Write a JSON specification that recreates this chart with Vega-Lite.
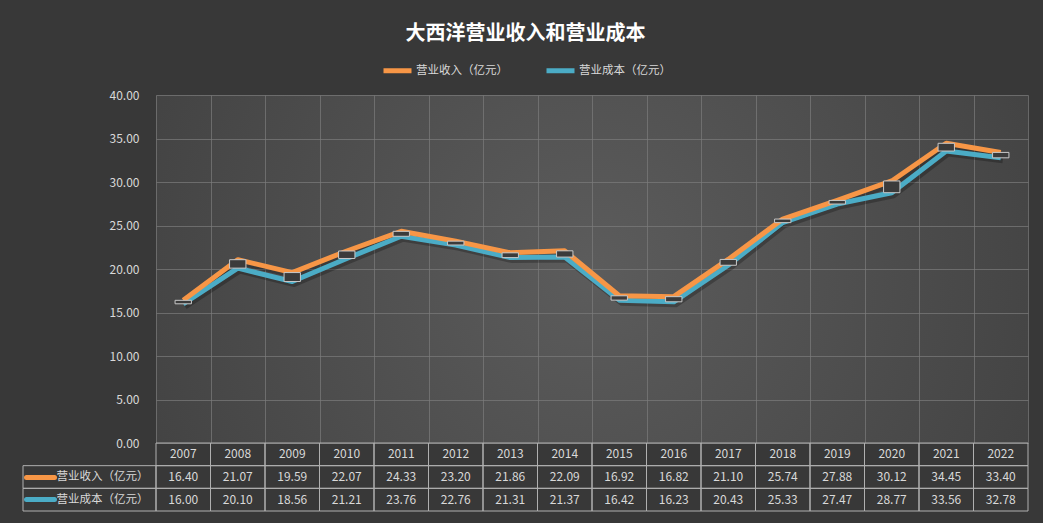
{
  "$schema": "https://vega.github.io/schema/vega-lite/v6.json",
  "background": "#383838",
  "padding": {"left": 22, "right": 16, "top": 24, "bottom": 12},
  "title": {
    "text": "大西洋营业收入和营业成本",
    "font": "Noto Sans CJK SC",
    "fontSize": 20,
    "fontWeight": "bold",
    "color": "#ffffff",
    "anchor": "middle",
    "offset": 10
  },
  "datasets": {
    "fin": [
      {"year": "2007", "series": "营业成本（亿元）", "value": 16.00},
      {"year": "2008", "series": "营业成本（亿元）", "value": 20.10},
      {"year": "2009", "series": "营业成本（亿元）", "value": 18.56},
      {"year": "2010", "series": "营业成本（亿元）", "value": 21.21},
      {"year": "2011", "series": "营业成本（亿元）", "value": 23.76},
      {"year": "2012", "series": "营业成本（亿元）", "value": 22.76},
      {"year": "2013", "series": "营业成本（亿元）", "value": 21.31},
      {"year": "2014", "series": "营业成本（亿元）", "value": 21.37},
      {"year": "2015", "series": "营业成本（亿元）", "value": 16.42},
      {"year": "2016", "series": "营业成本（亿元）", "value": 16.23},
      {"year": "2017", "series": "营业成本（亿元）", "value": 20.43},
      {"year": "2018", "series": "营业成本（亿元）", "value": 25.33},
      {"year": "2019", "series": "营业成本（亿元）", "value": 27.47},
      {"year": "2020", "series": "营业成本（亿元）", "value": 28.77},
      {"year": "2021", "series": "营业成本（亿元）", "value": 33.56},
      {"year": "2022", "series": "营业成本（亿元）", "value": 32.78},
      {"year": "2007", "series": "营业收入（亿元）", "value": 16.40},
      {"year": "2008", "series": "营业收入（亿元）", "value": 21.07},
      {"year": "2009", "series": "营业收入（亿元）", "value": 19.59},
      {"year": "2010", "series": "营业收入（亿元）", "value": 22.07},
      {"year": "2011", "series": "营业收入（亿元）", "value": 24.33},
      {"year": "2012", "series": "营业收入（亿元）", "value": 23.20},
      {"year": "2013", "series": "营业收入（亿元）", "value": 21.86},
      {"year": "2014", "series": "营业收入（亿元）", "value": 22.09},
      {"year": "2015", "series": "营业收入（亿元）", "value": 16.92},
      {"year": "2016", "series": "营业收入（亿元）", "value": 16.82},
      {"year": "2017", "series": "营业收入（亿元）", "value": 21.10},
      {"year": "2018", "series": "营业收入（亿元）", "value": 25.74},
      {"year": "2019", "series": "营业收入（亿元）", "value": 27.88},
      {"year": "2020", "series": "营业收入（亿元）", "value": 30.12},
      {"year": "2021", "series": "营业收入（亿元）", "value": 34.45},
      {"year": "2022", "series": "营业收入（亿元）", "value": 33.40}
    ]
  },
  "data": {"name": "fin"},
  "columns": 2,
  "spacing": 0,
  "bounds": "flush",
  "concat": [
    {
      "width": 133,
      "height": 348,
      "view": {"stroke": null},
      "mark": {"type": "point", "opacity": 0},
      "encoding": {}
    },
    {
      "width": 872,
      "height": 348,
      "view": {
        "stroke": null,
        "fill": {
          "gradient": "radial",
          "x1": 0.5, "y1": 0.5, "x2": 0.5, "y2": 0.5,
          "r1": 0, "r2": 0.75,
          "stops": [
            {"offset": 0, "color": "#5c5c5c"},
            {"offset": 1, "color": "#3a3a3a"}
          ]
        }
      },
      "encoding": {
        "x": {
          "field": "year",
          "type": "ordinal",
          "scale": {"type": "band", "paddingInner": 0, "paddingOuter": 0},
          "axis": {
            "title": null,
            "labels": false,
            "ticks": false,
            "domain": false,
            "grid": true,
            "tickBand": "extent",
            "gridColor": "#7c7c7c",
            "gridOpacity": 0.7
          }
        },
        "y": {
          "field": "value",
          "type": "quantitative",
          "scale": {"domain": [0, 40], "nice": false},
          "axis": {
            "title": null,
            "values": [0, 5, 10, 15, 20, 25, 30, 35, 40],
            "format": ".2f",
            "ticks": false,
            "domain": false,
            "labelColor": "#d9d9d9",
            "labelFont": "Noto Sans CJK SC",
            "labelFontSize": 12,
            "labelPadding": 17,
            "gridColor": "#7c7c7c",
            "gridOpacity": 0.7
          }
        }
      },
      "layer": [
        {
          "mark": {"type": "line", "strokeWidth": 5, "color": "#000000", "opacity": 0.25, "xOffset": 2, "yOffset": 3, "strokeJoin": "round"},
          "encoding": {"detail": {"field": "series"}}
        },
        {
          "mark": {"type": "line", "strokeWidth": 5, "strokeJoin": "round"},
          "encoding": {
            "color": {
              "field": "series",
              "type": "nominal",
              "scale": {
                "domain": ["营业收入（亿元）", "营业成本（亿元）"],
                "range": ["#f79646", "#4bacc6"]
              },
              "legend": {
                "title": null,
                "orient": "top",
                "direction": "horizontal",
                "offset": 8,
                "symbolType": "stroke",
                "symbolStrokeWidth": 5,
                "symbolSize": 784,
                "labelColor": "#d9d9d9",
                "labelFont": "Noto Sans CJK SC",
                "labelFontSize": 11.5,
                "labelOffset": 2,
                "columnPadding": 28
              }
            }
          }
        },
        {
          "mark": {"type": "bar", "width": {"band": 0.3}, "fill": "#3b3b3b", "stroke": "#c8c8c8", "strokeWidth": 1},
          "encoding": {
            "y": {"aggregate": "min", "field": "value", "type": "quantitative"},
            "y2": {"aggregate": "max", "field": "value"}
          }
        }
      ]
    },
    {
      "width": 133,
      "height": 68,
      "view": {"stroke": null},
      "transform": [
        {"aggregate": [{"op": "count", "as": "n"}], "groupby": ["series"]}
      ],
      "mark": {"type": "rect", "fillOpacity": 0, "stroke": "#b0b0b0", "strokeWidth": 1},
      "encoding": {
        "y": {
          "field": "series",
          "type": "nominal",
          "scale": {
            "domain": ["年份", "营业收入（亿元）", "营业成本（亿元）"],
            "paddingInner": 0,
            "paddingOuter": 0
          },
          "axis": {
            "orient": "left",
            "offset": -31,
            "title": null,
            "domain": false,
            "grid": false,
            "tickSize": 28,
            "tickWidth": 5,
            "tickCap": "round",
            "tickColor": {
              "condition": [
                {"test": "datum.value === '营业收入（亿元）'", "value": "#f79646"},
                {"test": "datum.value === '营业成本（亿元）'", "value": "#4bacc6"}
              ],
              "value": "transparent"
            },
            "labelAlign": "left",
            "labelPadding": -30,
            "labelColor": "#d9d9d9",
            "labelFont": "Noto Sans CJK SC",
            "labelFontSize": 11.5,
            "labelLimit": 0,
            "labelExpr": "datum.value === '年份' ? '' : datum.value"
          }
        }
      }
    },
    {
      "width": 872,
      "height": 68,
      "view": {"stroke": null},
      "encoding": {
        "x": {
          "field": "year",
          "type": "ordinal",
          "scale": {"type": "band", "paddingInner": 0, "paddingOuter": 0},
          "axis": null
        },
        "y": {
          "field": "series",
          "type": "nominal",
          "scale": {
            "domain": ["年份", "营业收入（亿元）", "营业成本（亿元）"],
            "paddingInner": 0,
            "paddingOuter": 0
          },
          "axis": null
        }
      },
      "layer": [
        {
          "mark": {"type": "rect", "fillOpacity": 0, "stroke": "#b0b0b0", "strokeWidth": 1}
        },
        {
          "transform": [
            {"aggregate": [{"op": "count", "as": "n"}], "groupby": ["year"]}
          ],
          "mark": {"type": "rect", "fillOpacity": 0, "stroke": "#b0b0b0", "strokeWidth": 1},
          "encoding": {"y": {"datum": "年份", "type": "nominal"}}
        },
        {
          "mark": {"type": "text", "color": "#d9d9d9", "font": "Noto Sans CJK SC", "fontSize": 12},
          "encoding": {"text": {"field": "value", "type": "quantitative", "format": ".2f"}}
        },
        {
          "transform": [
            {"aggregate": [{"op": "count", "as": "n"}], "groupby": ["year"]}
          ],
          "mark": {"type": "text", "color": "#d9d9d9", "font": "Noto Sans CJK SC", "fontSize": 12},
          "encoding": {
            "y": {"datum": "年份", "type": "nominal"},
            "text": {"field": "year", "type": "nominal"}
          }
        }
      ]
    }
  ],
  "config": {
    "font": "Noto Sans CJK SC",
    "view": {"stroke": null},
    "legend": {"layout": {"top": {"anchor": "middle"}}}
  }
}
